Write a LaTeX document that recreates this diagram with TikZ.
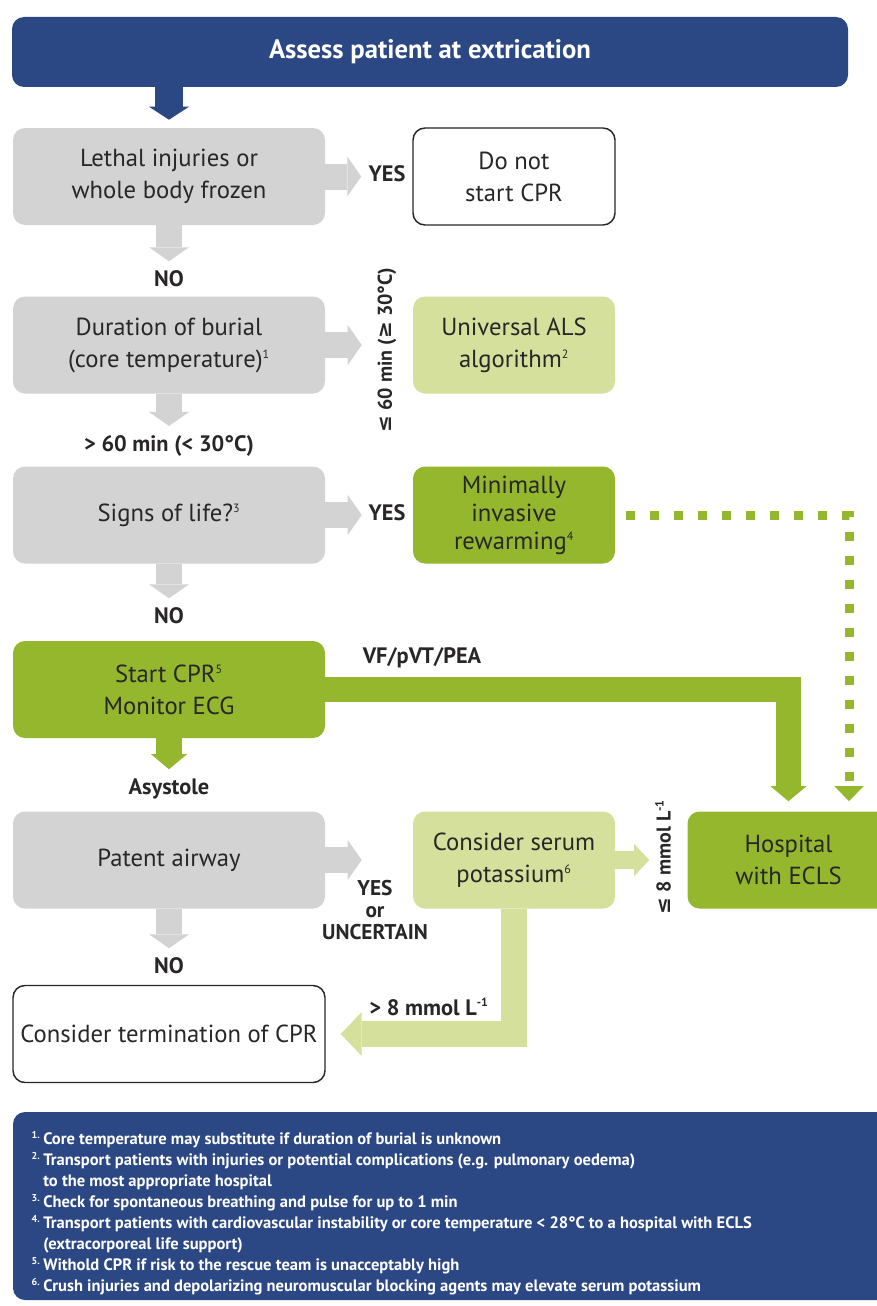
\documentclass[tikz,border=0pt]{standalone}
\usepackage{fontspec}
\setmainfont{PT Sans}
\newfontfamily\symfont{DejaVu Sans}
\usetikzlibrary{arrows.meta}
\definecolor{navy}{RGB}{43,71,132}
\definecolor{lgray}{RGB}{211,211,211}
\definecolor{lgreen}{RGB}{212,224,155}
\definecolor{mgreen}{RGB}{148,183,46}
\definecolor{ink}{RGB}{40,38,38}
\newcommand\supnum[1]{\textsuperscript{\fontsize{9}{9}\selectfont #1}}
\newcommand\fnmark[1]{\leavevmode\llap{\textsuperscript{\fontsize{7.5}{7.5}\selectfont #1}\,}}
\begin{document}
\begin{tikzpicture}[x=.75pt, y=-.75pt,
    every node/.style={text=ink, align=center, font=\fontsize{18.5}{24}\selectfont},
    card/.style={rounded corners=9pt, inner sep=0pt, minimum height=72.75pt},
    wide/.style={card, minimum width=234pt},
    narrow/.style={card, minimum width=151.5pt},
    outline/.style={draw=ink, line width=1.1pt, fill=white},
    lab/.style={inner sep=0pt, font=\bfseries\fontsize{16.75}{14.5}\selectfont},
    sidelab/.style={inner sep=0pt, rotate=90, font=\bfseries\fontsize{15}{15}\selectfont},
    bluearrow/.style={draw=navy, line width=21pt, -{Triangle[width=30pt, length=9.75pt, line width=0pt]}},
    grayarrow/.style={draw=lgray, line width=19.5pt, -{Triangle[width=30pt, length=10.5pt, line width=0pt]}},
    greenarrow/.style={draw=mgreen, line width=18.75pt, -{Triangle[width=27pt, length=11.25pt, line width=0pt]}},
    palearrow/.style={draw=lgreen, line width=13.5pt, -{Triangle[width=24pt, length=11.25pt, line width=0pt]}},
    palebend/.style={draw=lgreen, line width=19.5pt, -{Triangle[width=33pt, length=15.75pt, line width=0pt]}},
    dotarrow/.style={draw=mgreen, line width=6.75pt, dash pattern=on 6.75pt off 11.25pt, dash phase=9.75pt,
      -{Triangle[width=21.75pt, length=11.25pt, line width=0pt]}}]
  \def\lx{169}
  \def\mx{514}
  \path[use as bounding box] (0,0) rectangle (877,1306);
  \clip (0,0) rectangle (877,1306);

  \node[card, fill=navy, text=white, minimum width=627pt, minimum height=52.5pt,
    font=\bfseries\fontsize{20}{22}\selectfont] (assess) at (430,52) {Assess patient at extrication};

  \node[wide, fill=lgray] (lethal) at (\lx,176.5) {Lethal injuries or\\whole body frozen};
  \node[narrow, outline] (nostart) at (\mx,176.5) {Do not\\start CPR};
  \node[wide, fill=lgray] (duration) at (\lx,345) {Duration of burial\\(core temperature)\supnum{1}};
  \node[narrow, fill=lgreen] (als) at (\mx,345) {Universal ALS\\algorithm\supnum{2}};
  \node[wide, fill=lgray] (signs) at (\lx,515) {Signs of life?\supnum{3}};
  \node[narrow, fill=mgreen, font=\fontsize{18.5}{21}\selectfont] (rewarm) at (\mx,515) {Minimally\\invasive\\rewarming\supnum{4}};
  \node[wide, fill=mgreen] (startcpr) at (\lx,689.5) {Start CPR\supnum{5}\\Monitor ECG};
  \node[wide, fill=lgray] (patent) at (\lx,860) {Patent airway};
  \node[narrow, fill=lgreen] (potassium) at (\mx,860) {Consider serum\\potassium\supnum{6}};
  \node[narrow, fill=mgreen] (hospital) at (788.5,860) {Hospital\\with ECLS};
  \node[wide, outline] (termination) at (\lx,1034) {Consider termination of CPR};

  \node[lab] (yes1) at (387,174) {YES};
  \node[lab] (no1) at (\lx,279) {NO};
  \node[sidelab] (le60) at (387,350) {{\symfont ≤} 60 min ({\symfont ≥} 30°C)};
  \node[lab] (gt60) at (\lx,446) {> 60 min (< 30°C)};
  \node[lab] (yes3) at (387,513) {YES};
  \node[lab] (no3) at (\lx,616) {NO};
  \node[lab] (vf) at (422,658) {VF/pVT/PEA};
  \node[lab] (asys) at (\lx,789) {Asystole};
  \node[lab, font=\bfseries\fontsize{16}{16.5}\selectfont] (yesunc) at (375,910) {YES\\or\\UNCERTAIN};
  \node[sidelab] (le8) at (663,857) {{\symfont ≤} 8 mmol L\supnum{-1}};
  \node[lab] (no5) at (\lx,966) {NO};
  \node[lab] (gt8) at (429,1007) {> 8 mmol L\supnum{-1}};
  \coordinate (dotturn) at (849,515);

  \draw[bluearrow, shorten >=6pt] (assess.south -| lethal.north) -- (lethal.north);
  \draw[grayarrow, shorten >=38.25pt] (lethal) -- (nostart);
  \draw[grayarrow, shorten >=38.25pt] (duration) -- (als);
  \draw[grayarrow, shorten >=38.25pt] (signs) -- (rewarm);
  \draw[grayarrow, shorten >=38.25pt] (patent) -- (potassium);
  \draw[grayarrow, shorten >=7pt] (lethal) -- (no1);
  \draw[grayarrow, shorten >=7pt] (duration) -- (gt60);
  \draw[grayarrow, shorten >=7pt] (signs) -- (no3);
  \draw[grayarrow, shorten >=7pt] (patent) -- (no5);
  \draw[greenarrow, line width=19.5pt, shorten >=7pt] (startcpr) -- (asys);
  \draw[greenarrow, shorten >=7.5pt] (startcpr.east) -| (hospital.north);
  \draw[dotarrow, shorten >=7.5pt] (rewarm.east) -- (dotturn) -- (dotturn |- hospital.north);
  \draw[palearrow, shorten >=28.5pt] (potassium) -- (hospital);
  \draw[palebend, shorten >=11.25pt] (potassium.south) |- (termination.east);

  \fill[navy, rounded corners=9pt] (13,1112) rectangle (890,1300);
  \node[text=white, anchor=north west, align=left, inner sep=0pt,
    font=\bfseries\fontsize{12.4}{15.75}\selectfont] (notes) at (43,1131) {%
    \fnmark{1.}Core temperature may substitute if duration of burial is unknown\\
    \fnmark{2.}Transport patients with injuries or potential complications (e.g. pulmonary oedema)\\
    to the most appropriate hospital\\
    \fnmark{3.}Check for spontaneous breathing and pulse for up to 1 min\\
    \fnmark{4.}Transport patients with cardiovascular instability or core temperature < 28°C to a hospital with ECLS\\
    (extracorporeal life support)\\
    \fnmark{5.}Withold CPR if risk to the rescue team is unacceptably high\\
    \fnmark{6.}Crush injuries and depolarizing neuromuscular blocking agents may elevate serum potassium};
\end{tikzpicture}
\end{document}
